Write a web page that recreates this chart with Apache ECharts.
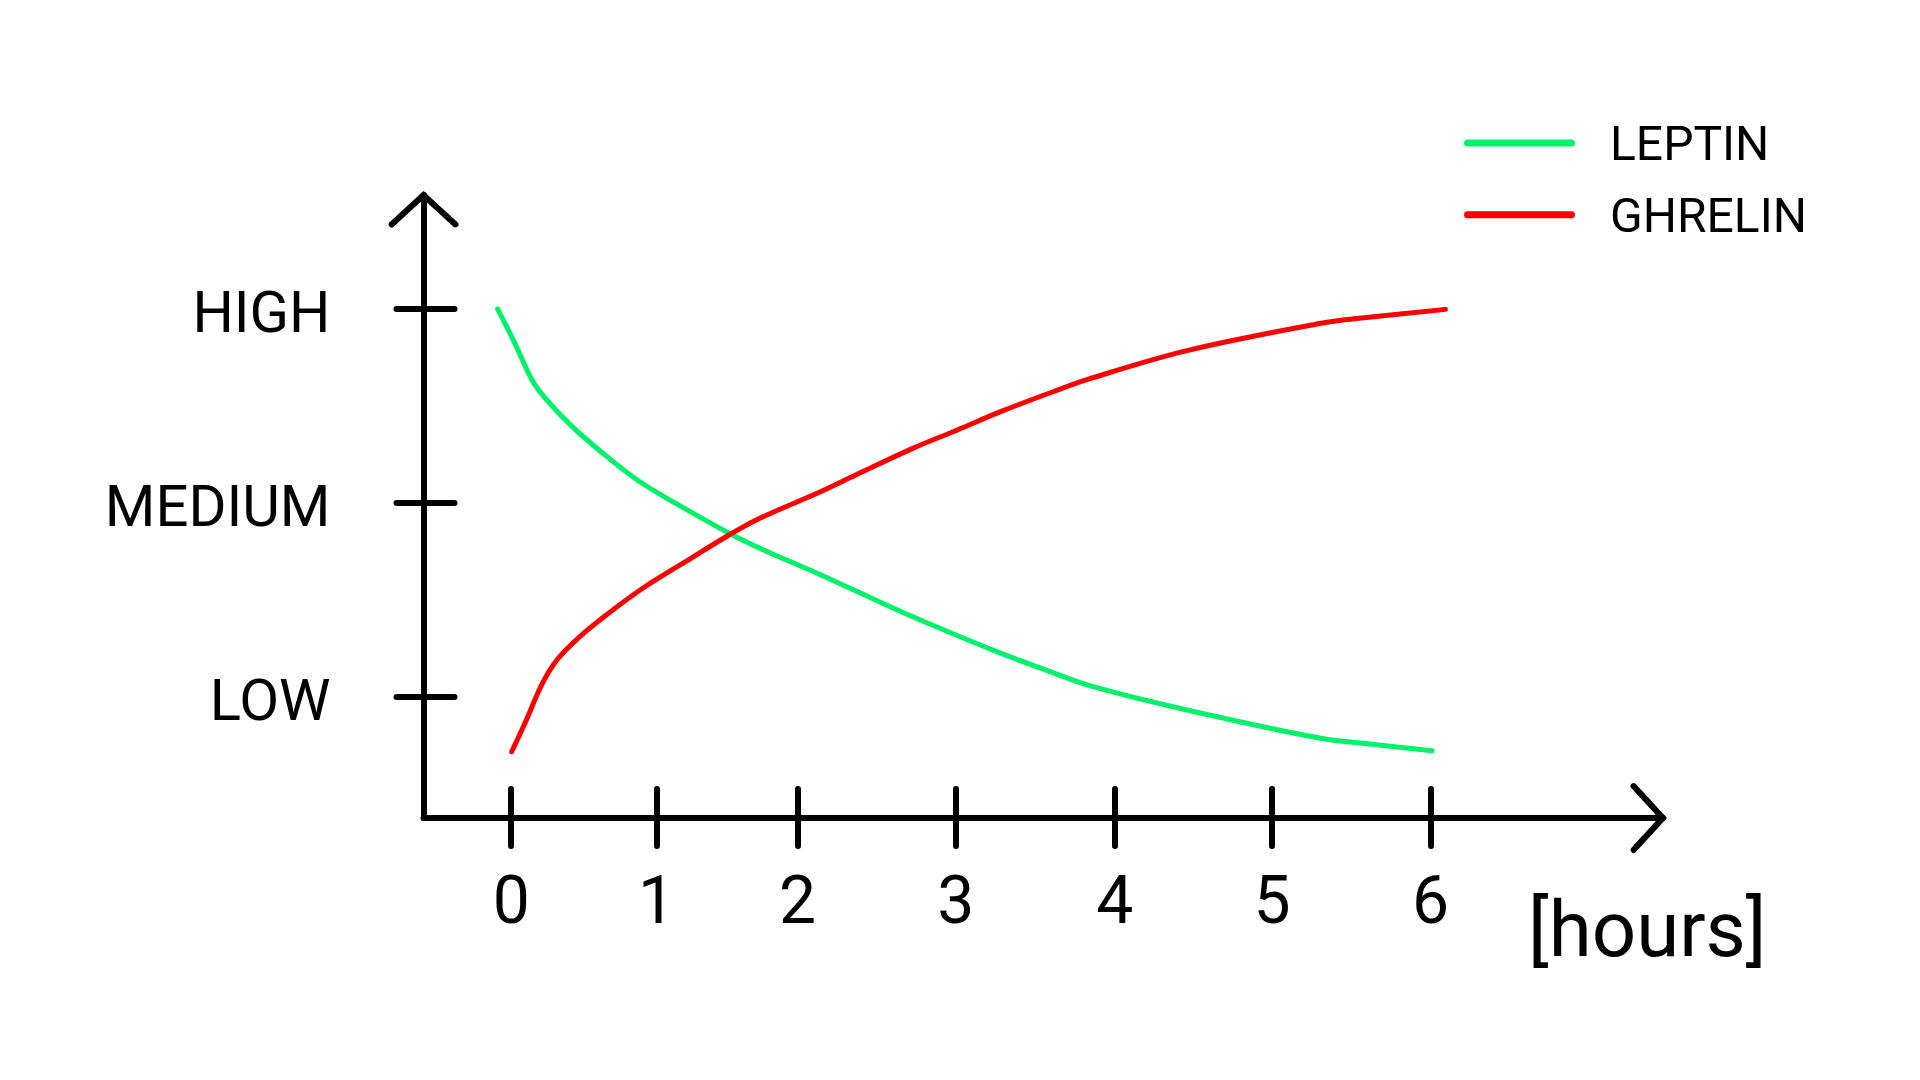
<!DOCTYPE html>
<html>
<head>
<meta charset="utf-8">
<script src="https://cdn.jsdelivr.net/npm/echarts@6/dist/echarts.min.js"></script>
<style>
html,body{margin:0;padding:0;background:#ffffff;}
#chart{width:1920px;height:1080px;}
</style>
</head>
<body>
<div id="chart"></div>
<script>
// ---- data ----
const levelLabels = ['LOW', 'MEDIUM', 'HIGH'];
const levelTicks = [1, 2, 3];
const hourLabels = ['0', '1', '2', '3', '4', '5', '6'];
const hourTicks = [0, 0.948, 1.869, 2.901, 3.939, 4.965, 6];
const seriesNames = ['LEPTIN', 'GHRELIN'];
const axisTitleX = '[hours]';

const leptinHours = [-0.089, 0.024, 0.136, 0.223, 0.398, 0.598, 0.823, 1.072, 1.422, 1.647, 2.022, 2.521, 2.821, 3.190, 3.487, 3.787, 4.411, 5.285, 5.660, 6.010];
const leptinLevel = [3.00, 2.823, 2.634, 2.539, 2.393, 2.256, 2.118, 1.998, 1.843, 1.757, 1.628, 1.447, 1.345, 1.226, 1.138, 1.054, 0.931, 0.785, 0.751, 0.721];

const ghrelinHours = [0.003, 0.099, 0.198, 0.298, 0.448, 0.648, 0.873, 1.173, 1.422, 1.622, 2.022, 2.271, 2.621, 2.912, 3.190, 3.536, 3.787, 4.411, 5.285, 5.535, 6.097];
const ghrelinLevel = [0.716, 0.880, 1.060, 1.189, 1.310, 1.438, 1.567, 1.714, 1.834, 1.920, 2.058, 2.152, 2.281, 2.376, 2.469, 2.573, 2.643, 2.785, 2.926, 2.952, 2.998];

// ---- build ----
const zip = (xs, ys) => xs.map((x, i) => [x, ys[i]]);
const FONT = 'Roboto';
const chevron = 'path://M0 32 L35 0 L70 32 A3.2 3.2 0 0 1 65.5 36.5 L35 8.5 L4.5 36.5 A3.2 3.2 0 0 1 0 32 Z';
const legendBar = 'path://M3.5 0 L107.5 0 A3.5 3.5 0 0 1 107.5 7 L3.5 7 A3.5 3.5 0 0 1 3.5 0 Z';
const X_MIN = -0.5724, X_MAX = 7.5174;
const Y_MIN = 0.374, Y_MAX = 3.588;

const chart = echarts.init(document.getElementById('chart'), null, {renderer: 'canvas'});

const tickStyle = {color: '#000', width: 6, cap: 'round'};

chart.setOption({
  animation: false,
  backgroundColor: '#ffffff',
  grid: {left: 423.5, right: 257, top: 195, bottom: 262, outerBoundsMode: 'none', containLabel: false},
  legend: {
    orient: 'vertical',
    left: 1464,
    top: 114,
    padding: 0,
    icon: legendBar,
    itemWidth: 111,
    itemHeight: 7,
    itemGap: 13.7,
    data: seriesNames,
    formatter: name => '{t|' + name + '}',
    textStyle: {
      fontFamily: FONT, fontSize: 48, color: '#000',
      rich: {t: {fontFamily: FONT, fontSize: 48, color: '#000', lineHeight: 48, padding: [10, 0, 0, 30]}}
    }
  },
  xAxis: [
    {
      type: 'value', min: X_MIN, max: X_MAX, position: 'bottom',
      name: axisTitleX, nameLocation: 'end', nameGap: -135, nameMoveOverlap: false,
      nameTextStyle: {fontFamily: FONT, fontSize: 78, color: '#000', align: 'left', verticalAlign: 'top', padding: [79, 0, 0, 0]},
      axisLine: {show: true, onZero: false, lineStyle: {color: '#000', width: 6},
        symbol: ['none', chevron], symbolSize: [70, 36.5], symbolOffset: [0, -14.25]},
      axisTick: {show: true, inside: false, length: 28, customValues: hourTicks, lineStyle: tickStyle},
      axisLabel: {show: true, customValues: hourTicks, margin: 55, fontFamily: FONT, fontSize: 66, color: '#000',
        formatter: v => hourLabels[hourTicks.indexOf(v)]},
      splitLine: {show: false}
    },
    {
      type: 'value', min: X_MIN, max: X_MAX, position: 'bottom',
      axisLine: {show: false, onZero: false},
      axisTick: {show: true, inside: true, length: 29, customValues: hourTicks, lineStyle: tickStyle},
      axisLabel: {show: false},
      splitLine: {show: false}
    }
  ],
  yAxis: [
    {
      type: 'value', min: Y_MIN, max: Y_MAX, position: 'left',
      axisLine: {show: true, onZero: false, lineStyle: {color: '#000', width: 6},
        symbol: ['none', chevron], symbolSize: [70, 36.5], symbolOffset: [0, -14.25]},
      axisTick: {show: true, inside: false, length: 27, customValues: levelTicks, lineStyle: tickStyle},
      axisLabel: {show: true, customValues: levelTicks, margin: 93, fontFamily: FONT, fontSize: 58, color: '#000',
        verticalAlign: 'top', lineHeight: 17,
        formatter: v => levelLabels[levelTicks.indexOf(v)]},
      splitLine: {show: false}
    },
    {
      type: 'value', min: Y_MIN, max: Y_MAX, position: 'left',
      axisLine: {show: false, onZero: false},
      axisTick: {show: true, inside: true, length: 31, customValues: levelTicks, lineStyle: tickStyle},
      axisLabel: {show: false},
      splitLine: {show: false}
    }
  ],
  series: [
    {
      name: seriesNames[0], type: 'line', xAxisIndex: 0, yAxisIndex: 0,
      data: zip(leptinHours, leptinLevel),
      smooth: 0.35, symbol: 'none', showSymbol: false,
      lineStyle: {color: '#00f26a', width: 5, cap: 'round', join: 'round'},
      itemStyle: {color: '#00f26a'}
    },
    {
      name: seriesNames[1], type: 'line', xAxisIndex: 0, yAxisIndex: 0,
      data: zip(ghrelinHours, ghrelinLevel),
      smooth: 0.35, symbol: 'none', showSymbol: false,
      lineStyle: {color: '#ff0000', width: 5, cap: 'round', join: 'round'},
      itemStyle: {color: '#ff0000'}
    }
  ]
});
</script>
</body>
</html>
